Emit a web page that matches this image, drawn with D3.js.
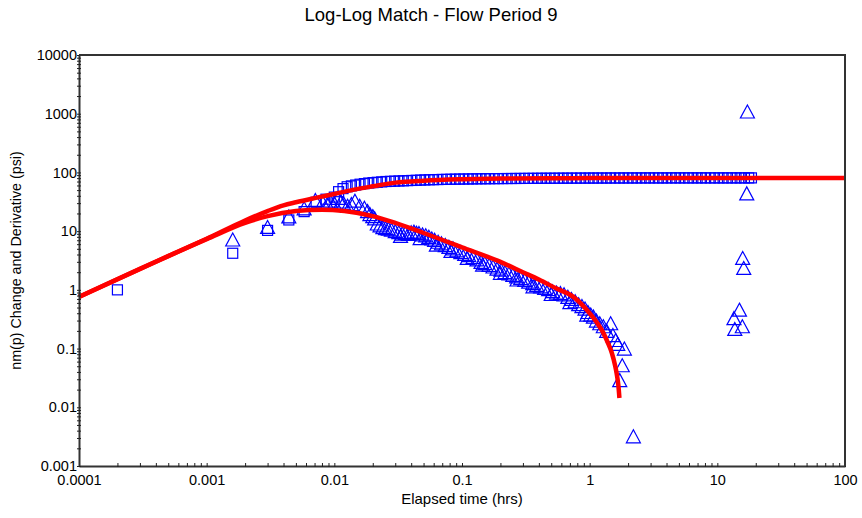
<!DOCTYPE html>
<html>
<head>
<meta charset="utf-8">
<script src="https://cdn.jsdelivr.net/npm/d3@7"></script>
<style>
body { margin: 0; background: #fff; }
svg { display: block; font-family: "Liberation Sans", Arial, sans-serif; }
</style>
</head>
<body>
<div id="wrapper"></div>
<script>
// tick decades and their labels
const xMajor = [0.0001, 0.001, 0.01, 0.1, 1, 10, 100];
const xTickLabels = ["0.0001", "0.001", "0.01", "0.1", "1", "10", "100"];
const yMajor = [0.001, 0.01, 0.1, 1, 10, 100, 1000, 10000];
const yTickLabels = ["0.001", "0.01", "0.1", "1", "10", "100", "1000", "10000"];

// pressure change (squares)
const pressTime = [
    0.0002, 0.0016, 0.003, 0.0044, 0.0058, 0.0072, 0.0086, 0.0100, 0.0108, 0.0117,
    0.0126, 0.0136, 0.0147, 0.0159, 0.0172, 0.0186, 0.0201, 0.0217, 0.0235, 0.0254,
    0.0275, 0.0297, 0.0321, 0.0347, 0.0375, 0.0405, 0.0438, 0.0474, 0.0512, 0.0554,
    0.0599, 0.0648, 0.0700, 0.0757, 0.0818, 0.0885, 0.0957, 0.1034, 0.112, 0.121,
    0.131, 0.141, 0.153, 0.165, 0.179, 0.193, 0.209, 0.226, 0.244, 0.264,
    0.285, 0.308, 0.333, 0.36, 0.39, 0.42, 0.455, 0.49, 0.53, 0.575,
    0.62, 0.67, 0.725, 0.785, 0.85, 0.92, 0.99, 1.07, 1.16, 1.25,
    1.35, 1.46, 1.58, 1.71, 1.85, 2.0, 2.16, 2.34, 2.53, 2.73,
    2.95, 3.19, 3.45, 3.73, 4.03, 4.36, 4.71, 5.09, 5.5, 5.95,
    6.43, 6.95, 7.5, 8.1, 8.8, 9.5, 10.3, 11.1, 12.0, 13.0,
    14.0, 15.1, 16.3, 17.6, 18.5
];
const pressValue = [
    1.0, 4.2, 10.3, 15.5, 21.5, 31, 35, 38, 47, 53,
    57, 59, 61, 63, 64.5, 66, 67, 68, 69, 70,
    70.5, 71, 71.5, 72, 72.5, 73, 73.5, 74, 74.5, 75,
    75.3, 75.6, 76, 76.2, 76.5, 76.8, 77, 77.2, 77.4, 77.6,
    77.8, 78, 78.1, 78.2, 78.4, 78.5, 78.6, 78.7, 78.8, 78.9,
    79, 79.1, 79.2, 79.3, 79.4, 79.5, 79.6, 79.6, 79.7, 79.8,
    79.8, 79.9, 80, 80, 80.1, 80.1, 80.2, 80.2, 80.3, 80.3,
    80.3, 80.4, 80.4, 80.4, 80.5, 80.5, 80.5, 80.5, 80.6, 80.6,
    80.6, 80.6, 80.6, 80.6, 80.6, 80.7, 80.7, 80.7, 80.7, 80.7,
    80.7, 80.7, 80.7, 80.7, 80.7, 80.7, 80.7, 80.7, 80.7, 80.7,
    80.7, 80.7, 80.7, 80.7, 80.7
];

// derivative (triangles)
const derivTime = [
    0.0016, 0.003, 0.0044, 0.0058, 0.0071, 0.0081, 0.0088, 0.0093, 0.0100, 0.0107,
    0.0113, 0.0118, 0.0127, 0.0136, 0.0145, 0.0158, 0.0172, 0.0182, 0.0190, 0.0200,
    0.0207, 0.0217, 0.0228, 0.0240, 0.0252, 0.0265, 0.028, 0.030, 0.032, 0.033,
    0.034, 0.036, 0.038, 0.040, 0.042, 0.044, 0.046, 0.047, 0.049, 0.052,
    0.055, 0.058, 0.061, 0.063, 0.065, 0.069, 0.074, 0.079, 0.082, 0.085,
    0.091, 0.098, 0.105, 0.11, 0.113, 0.122, 0.131, 0.141, 0.145, 0.151,
    0.163, 0.175, 0.188, 0.2, 0.202, 0.217, 0.233, 0.25, 0.268, 0.27,
    0.288, 0.31, 0.333, 0.358, 0.36, 0.385, 0.413, 0.444, 0.477, 0.5,
    0.512, 0.55, 0.59, 0.63, 0.675, 0.7, 0.72, 0.77, 0.82, 0.87,
    0.92, 0.95, 0.97, 1.02, 1.07, 1.13, 1.2, 1.28, 1.36, 1.46,
    1.52, 1.6, 1.66, 1.72, 1.8, 1.87, 2.2, 13.5, 13.7, 14.9,
    15.7, 15.8, 16.1, 17.0, 17.2
];
const derivValue = [
    7.2, 11.8, 17.8, 24.5, 34, 31, 29, 33, 30, 37,
    32, 30, 27, 29, 33, 27, 25, 22, 19.5, 18,
    16.5, 13.5, 12.5, 11.7, 11.3, 11, 10.6, 10, 9.6, 8.3,
    9.1, 9.3, 9.0, 9.6, 9.8, 9.4, 9.3, 7.6, 8.8, 8.5,
    8.0, 7.5, 7.1, 5.9, 6.6, 6.2, 5.8, 5.4, 4.6, 5.1,
    4.7, 4.4, 4.1, 3.5, 3.9, 3.6, 3.3, 3.0, 2.7, 2.85,
    2.65, 2.5, 2.3, 1.95, 2.2, 2.0, 1.9, 1.8, 1.7, 1.5,
    1.58, 1.48, 1.38, 1.3, 1.15, 1.22, 1.15, 1.08, 1.03, 0.85,
    0.95, 0.9, 0.88, 0.84, 0.76, 0.62, 0.7, 0.64, 0.57, 0.53,
    0.48, 0.38, 0.42, 0.38, 0.35, 0.3, 0.27, 0.24, 0.2, 0.27,
    0.17, 0.14, 0.12, 0.029, 0.052, 0.10, 0.0032, 0.33, 0.216, 0.46,
    0.24, 3.5, 2.36, 44, 1090
];

// model match curves (red)
const modelTime = [0.0001, 0.0002, 0.0005, 0.001, 0.002, 0.003, 0.004, 0.005, 0.007, 0.01,
    0.015, 0.02, 0.03, 0.05, 0.1, 0.2, 0.5, 1, 3, 10, 30, 100];
const modelPressure = [0.76, 1.52, 3.75, 7.4, 15.2, 22, 27.5, 31, 36.5, 43,
    52, 58, 67, 72.5, 76.5, 78.5, 79.7, 80.1, 80.3, 80.4, 80.4, 80.4];
const modelDerivTime = [0.0001, 0.0003, 0.001, 0.002, 0.003, 0.005, 0.008, 0.012, 0.02, 0.03,
    0.05, 0.1, 0.2, 0.3, 0.4, 0.55, 0.745, 1.0, 1.15, 1.28,
    1.4, 1.49, 1.58, 1.64, 1.68, 1.71];
const modelDerivValue = [0.76, 2.28, 7.3, 13.8, 18, 22, 23.2, 22, 18, 13.8,
    9.3, 5.3, 3.0, 2.0, 1.5, 1.05, 0.76, 0.40, 0.27, 0.185,
    0.12, 0.085, 0.052, 0.034, 0.023, 0.0144];

function buildPlot() {
    const dimension = {
        width: 862,
        height: 518,
        margin: { top: 55, left: 79, bottom: 52, right: 17 }
    };
    dimension.boundedWidth = dimension.width - dimension.margin.left - dimension.margin.right;
    dimension.boundedHeight = dimension.height - dimension.margin.top - dimension.margin.bottom;

    const svg = d3.select("#wrapper").append("svg")
        .attr("width", dimension.width)
        .attr("height", dimension.height);

    const bounded = svg.append("g")
        .attr("transform", `translate(${dimension.margin.left},${dimension.margin.top})`);

    const xScaler = d3.scaleLog()
        .domain([xMajor[0], xMajor[xMajor.length - 1]])
        .range([0, dimension.boundedWidth]);
    const yScaler = d3.scaleLog()
        .domain([yMajor[0], yMajor[yMajor.length - 1]])
        .range([dimension.boundedHeight, 0]);

    // minor ticks 1..9 per decade
    const decadeTicks = (major) => {
        const t = [];
        major.forEach((d, i) => {
            t.push(d);
            if (i < major.length - 1) for (let k = 2; k <= 9; k++) t.push(d * k);
        });
        return t;
    };
    const xLabel = new Map(xMajor.map((d, i) => [d, xTickLabels[i]]));
    const yLabel = new Map(yMajor.map((d, i) => [d, yTickLabels[i]]));

    const pressData = pressTime.map((t, i) => ({ t: t, v: pressValue[i] }));
    const derivData = derivTime.map((t, i) => ({ t: t, v: derivValue[i] }));
    const modelP = modelTime.map((t, i) => ({ t: t, v: modelPressure[i] }));
    const modelD = modelDerivTime.map((t, i) => ({ t: t, v: modelDerivValue[i] }));

    // markers
    bounded.append("g").selectAll("rect")
        .data(pressData)
        .join("rect")
        .attr("x", d => xScaler(d.t) - 5)
        .attr("y", d => yScaler(d.v) - 5)
        .attr("width", 10)
        .attr("height", 10)
        .attr("fill", "none")
        .attr("stroke", "#0000ff")
        .attr("stroke-width", 1.2);

    bounded.append("g").selectAll("path")
        .data(derivData)
        .join("path")
        .attr("transform", d => `translate(${xScaler(d.t)},${yScaler(d.v)})`)
        .attr("d", "M0,-6.5L7,6.5L-7,6.5Z")
        .attr("fill", "none")
        .attr("stroke", "#0000ff")
        .attr("stroke-width", 1.2);

    // model lines
    const lineGenerator = d3.line()
        .x(d => xScaler(d.t))
        .y(d => yScaler(d.v))
        .curve(d3.curveMonotoneX);

    bounded.append("path")
        .attr("d", lineGenerator(modelP))
        .attr("fill", "none")
        .attr("stroke", "#ff0000")
        .attr("stroke-width", 4.5);
    bounded.append("path")
        .attr("d", lineGenerator(modelD))
        .attr("fill", "none")
        .attr("stroke", "#ff0000")
        .attr("stroke-width", 4.5);

    // axes
    const x_axis = d3.axisBottom(xScaler)
        .tickValues(decadeTicks(xMajor))
        .tickFormat(d => xLabel.get(d) || "")
        .tickSize(2)
        .tickSizeOuter(0)
        .tickPadding(7);
    const xg = bounded.append("g")
        .attr("transform", `translate(0,${dimension.boundedHeight})`)
        .call(x_axis);
    xg.selectAll(".tick line").attr("y1", -3).attr("y2", 1).attr("stroke", "#222");

    const y_axis = d3.axisLeft(yScaler)
        .tickValues(decadeTicks(yMajor))
        .tickFormat(d => yLabel.get(d) || "")
        .tickSize(2)
        .tickSizeOuter(0)
        .tickPadding(0);
    const yg = bounded.append("g").call(y_axis);
    yg.selectAll(".tick line").attr("x1", 2).attr("x2", -2).attr("stroke", "#222");

    [xg, yg].forEach(g => {
        g.select(".domain").attr("stroke", "#333").attr("stroke-width", 2);
        g.selectAll(".tick text")
            .attr("font-family", "Liberation Sans, Arial, sans-serif")
            .attr("font-size", 14.5)
            .attr("fill", "#000");
    });

    // frame top / right
    bounded.append("path")
        .attr("d", `M0,0H${dimension.boundedWidth}V${dimension.boundedHeight}`)
        .attr("fill", "none")
        .attr("stroke", "#333")
        .attr("stroke-width", 2);

    svg.append("text")
        .attr("x", 431)
        .attr("y", 21)
        .attr("text-anchor", "middle")
        .attr("font-size", 18.5)
        .text("Log-Log Match - Flow Period 9");

    svg.append("text")
        .attr("x", dimension.margin.left + dimension.boundedWidth / 2)
        .attr("y", 504)
        .attr("text-anchor", "middle")
        .attr("font-size", 15)
        .text("Elapsed time (hrs)");

    svg.append("text")
        .attr("transform", `translate(21,${dimension.margin.top + dimension.boundedHeight / 2}) rotate(-90)`)
        .attr("text-anchor", "middle")
        .attr("font-size", 14.3)
        .text("nm(p) Change and Derivative (psi)");
}
buildPlot();
</script>
</body>
</html>
